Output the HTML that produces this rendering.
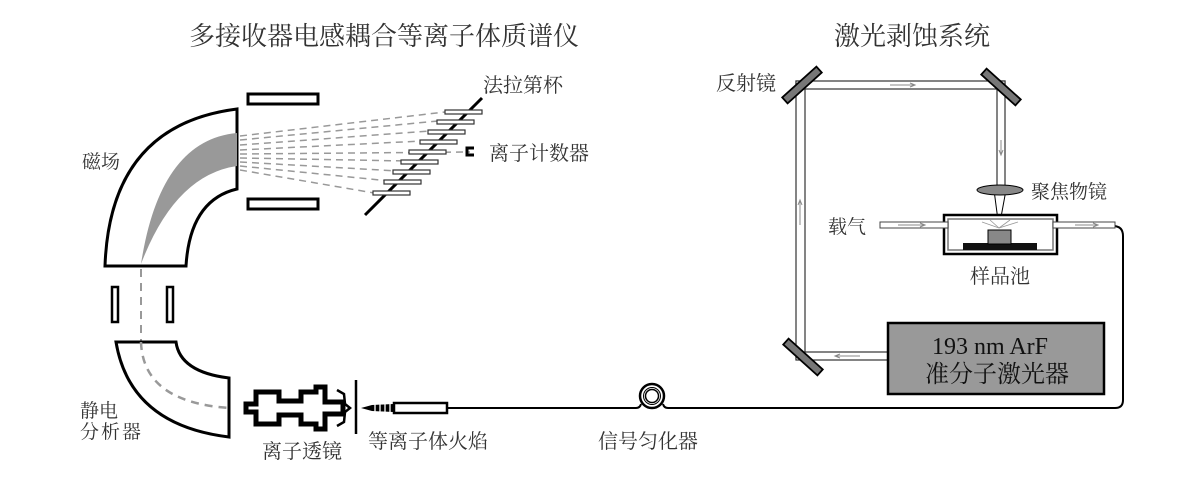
<!DOCTYPE html>
<html><head><meta charset="utf-8"><style>
html,body{margin:0;padding:0;background:#fff;}
svg{display:block;}
text{font-family:"Liberation Serif","Noto Serif CJK SC","Noto Sans CJK SC",serif;fill:#333;}
</style></head><body>
<svg width="1200" height="487" viewBox="0 0 1200 487" xmlns="http://www.w3.org/2000/svg">
<text x="384" y="45" font-size="26" text-anchor="middle">多接收器电感耦合等离子体质谱仪</text>
<text x="912" y="45" font-size="26" text-anchor="middle">激光剥蚀系统</text>

<!-- magnet -->
<path d="M105,266 Q110,125 237,109 L237,189 Q190,200 186,266 Z" fill="#fff" stroke="#000" stroke-width="3"/>
<path d="M237,133 Q160,140 141,264 Q175,175 237,166 Z" fill="#999"/>
<text x="82" y="168" font-size="19">磁场</text>
<rect x="248" y="94" width="70" height="10" fill="#fff" stroke="#000" stroke-width="3"/>
<rect x="248" y="199" width="70" height="10" fill="#fff" stroke="#000" stroke-width="3"/>

<!-- dashed rays -->
<g stroke="#999" stroke-width="1.5" stroke-dasharray="7,5" fill="none">
<path d="M240,136 L445,112"/><path d="M240,140 L438,121"/><path d="M240,145 L430,131"/>
<path d="M240,150 L422,141"/><path d="M240,154 L470,152"/><path d="M240,158 L408,161"/>
<path d="M240,162 L398,171"/><path d="M240,166 L390,181"/><path d="M240,170 L380,194"/>
</g>
<line x1="365" y1="215" x2="482" y2="98" stroke="#000" stroke-width="3"/>
<g fill="#fff" stroke="#333" stroke-width="1.2">
<rect x="445" y="110" width="37" height="4"/><rect x="437" y="120" width="37" height="4"/>
<rect x="428" y="130" width="37" height="4"/><rect x="420" y="140" width="37" height="4"/>
<rect x="409" y="150" width="37" height="4"/><rect x="401" y="160" width="37" height="4"/>
<rect x="393" y="170" width="37" height="4"/><rect x="384" y="180" width="37" height="4"/>
<rect x="373" y="191" width="37" height="4"/>
</g>
<path d="M474,148 L467,148 L467,155 L474,155" fill="none" stroke="#000" stroke-width="3"/>
<text x="483" y="92" font-size="20">法拉第杯</text>
<text x="489" y="160" font-size="20">离子计数器</text>

<!-- slits -->
<rect x="112" y="287" width="6" height="35" fill="#fff" stroke="#000" stroke-width="2.5"/>
<rect x="167" y="287" width="6" height="35" fill="#fff" stroke="#000" stroke-width="2.5"/>
<line x1="141" y1="269" x2="141" y2="342" stroke="#999" stroke-width="2" stroke-dasharray="8,6"/>

<!-- ESA -->
<path d="M116,342 L176,342 Q180,372 229,378 L229,437 Q130,425 116,342 Z" fill="#fff" stroke="#000" stroke-width="3"/>
<path d="M141,342 Q143,402 229,408" fill="none" stroke="#999" stroke-width="2.5" stroke-dasharray="8,6"/>
<text x="80" y="417" font-size="19">静电</text>
<text x="80" y="438" font-size="19" letter-spacing="2">分析器</text>

<!-- ion lens -->
<g fill="#fff">
<path id="lens" d="M246,404 L256,404 L256,392 L279,392 L279,401 L301,401 L301,392 L316,392 L316,387 L325,387 L325,402 L343,402 L343,414 L325,414 L325,429 L316,429 L316,424 L301,424 L301,415 L279,415 L279,424 L256,424 L256,412 L246,412 Z" stroke="#000" stroke-width="5"/>
<use href="#lens" stroke="#fff" stroke-width="1.8"/>
</g>
<path d="M337,390 L344,394 L345,404 L350,408 L345,412 L344,422 L337,426" fill="none" stroke="#000" stroke-width="2.5"/>
<line x1="356" y1="380" x2="356" y2="434" stroke="#000" stroke-width="2.5"/>
<path d="M361,408 L372,405 L393,404 L393,412 L372,411 Z" fill="#000"/>
<g stroke="#fff" stroke-width="1.3"><line x1="375" y1="403" x2="375" y2="413"/><line x1="380" y1="403" x2="380" y2="413"/><line x1="385" y1="403" x2="385" y2="413"/><line x1="390" y1="403" x2="390" y2="413"/></g>
<rect x="394" y="403" width="53" height="10" fill="#fff" stroke="#000" stroke-width="2.5"/>
<text x="262" y="458" font-size="20">离子透镜</text>
<text x="368" y="448" font-size="20">等离子体火焰</text>

<!-- transfer line -->
<path d="M447,408 L636,408 Q640,408 641,404 M663,404 Q664,408 668,408 L1115,408 Q1123,408 1123,400 L1123,236 Q1123,226 1113,226" fill="none" stroke="#000" stroke-width="2"/>
<circle cx="652" cy="396" r="12" fill="#fff" stroke="#000" stroke-width="2.5"/>
<circle cx="652" cy="396" r="8.5" fill="none" stroke="#000" stroke-width="1"/>
<circle cx="652" cy="396" r="6.5" fill="none" stroke="#000" stroke-width="1.5"/>
<text x="598" y="448" font-size="20">信号匀化器</text>

<!-- beam paths -->
<g fill="#fff" stroke="#333" stroke-width="1.2">
<rect x="796" y="81" width="9" height="278"/>
<rect x="796" y="81" width="209" height="8"/>
<rect x="997" y="81" width="8" height="107"/>
<rect x="796" y="352" width="92" height="8"/>
</g>
<g fill="#fff">
<rect x="797" y="82" width="7" height="276"/>
<rect x="797" y="82" width="207" height="6"/>
<rect x="998" y="82" width="6" height="105"/>
<rect x="797" y="353" width="90" height="6"/>
</g>
<g stroke="#888" stroke-width="1" fill="none">
<path d="M890,85 L915,85 M910,83 L915,85 L910,87"/>
<path d="M1001,140 L1001,155 M999,150 L1001,155 L1003,150"/>
<path d="M800,225 L800,200 M798,205 L800,200 L802,205"/>
<path d="M860,356 L835,356 M840,354 L835,356 L840,358"/>
</g>
<!-- mirrors -->
<g fill="#777" stroke="#000" stroke-width="1.8">
<rect x="779" y="81" width="46" height="8" transform="rotate(-42 802 85)"/>
<rect x="978" y="83" width="46" height="8" transform="rotate(42 1001 87)"/>
<rect x="780" y="353" width="46" height="8" transform="rotate(42 803 357)"/>
</g>
<text x="716" y="90" font-size="20">反射镜</text>

<!-- lens & sample cell -->
<path d="M994,190 L999,228 L1006,190" fill="none" stroke="#000" stroke-width="1"/>
<ellipse cx="1000" cy="190" rx="23" ry="5" fill="#888" stroke="#000" stroke-width="1"/>
<text x="1031" y="198" font-size="19">聚焦物镜</text>
<rect x="944" y="215" width="113" height="39" fill="#fff" stroke="#000" stroke-width="2.5"/>
<rect x="948" y="219" width="105" height="31" fill="none" stroke="#777" stroke-width="1.5"/>
<rect x="963" y="243" width="74" height="7" fill="#111"/>
<rect x="988" y="230" width="23" height="14" fill="#888" stroke="#000" stroke-width="1"/>
<g stroke="#999" stroke-width="0.8"><line x1="999" y1="228" x2="982" y2="222"/><line x1="999" y1="228" x2="1018" y2="222"/><line x1="999" y1="228" x2="990" y2="220"/><line x1="999" y1="228" x2="1010" y2="220"/></g>
<g fill="#fff" stroke="#444" stroke-width="1">
<rect x="880" y="222" width="68" height="6"/>
<rect x="1053" y="222" width="62" height="6"/>
</g>
<g stroke="#888" stroke-width="1" fill="none">
<path d="M898,225 L925,225 M920,223 L925,225 L920,227"/>
<path d="M1075,225 L1098,225 M1093,223 L1098,225 L1093,227"/>
</g>
<text x="828" y="233" font-size="19">载气</text>
<text x="970" y="283" font-size="20">样品池</text>

<!-- laser -->
<rect x="888" y="323" width="216" height="71" fill="#999" stroke="#000" stroke-width="2.5"/>
<text x="990" y="354" font-size="24" text-anchor="middle" style="fill:#111">193 nm ArF</text>
<text x="997" y="382" font-size="24" text-anchor="middle" style="fill:#111">准分子激光器</text>
</svg>
</body></html>
